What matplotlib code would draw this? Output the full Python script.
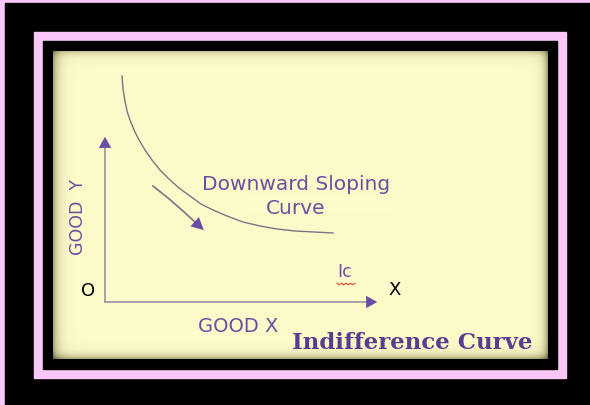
import numpy as np
import matplotlib
matplotlib.use('Agg')
import matplotlib.pyplot as plt
from matplotlib.patches import Rectangle, FancyArrowPatch

# indifference curve (pixel units, y grows downward)
curve_x = [122, 123, 125, 127, 130, 134, 139, 145, 152, 160, 169, 179, 190, 201, 213, 227, 243, 260, 277, 295, 314, 333]
curve_y = [76, 89, 101, 111, 120, 130, 140, 150, 160, 170, 179, 188, 196, 204, 210, 216, 222, 226, 229, 231, 232, 233]

# small arrow showing the slope direction
slope_x = [153, 168, 183, 196, 206]
slope_y = [186, 198, 211, 223, 232]

origin = (105, 302)
y_axis_top = 134
x_axis_end = 380

labels = {
    'down1': 'Downward Sloping',
    'down2': 'Curve',
    'gy': 'GOOD  Y',
    'gx': 'GOOD X',
    'o': 'O',
    'x': 'X',
    'ic': 'Ic',
    'title': 'Indifference Curve',
}

PINK = '#f9c8f9'
CREAM = np.array([253, 251, 202]) / 255.0
PURPLE = '#6b4ea3'
LINE = '#9c8fa6'

W, H = 590, 405
fig = plt.figure(figsize=(W / 100, H / 100), dpi=100)
ax = fig.add_axes([0, 0, 1, 1])
ax.set_xlim(0, W)
ax.set_ylim(H, 0)
ax.axis('off')

# frames
ax.add_patch(Rectangle((-10, -10), W + 20, H + 20, color=PINK, zorder=0))
ax.add_patch(Rectangle((5, 3), W + 10, H + 10, color='black', zorder=0.1))
ax.add_patch(Rectangle((34, 32), 532, 346, color=PINK, zorder=0.2))
ax.add_patch(Rectangle((43, 41), 514, 328, color='black', zorder=0.3))

# cream panel with inner shadow
x0, x1, y0, y1 = 53, 548, 51, 359
w, h = x1 - x0, y1 - y0
xx, yy = np.meshgrid(np.arange(w) + 0.5, np.arange(h) + 0.5)
shade = (0.55 * np.exp(-xx / 5) + 0.6 * np.exp(-(w - xx) / 4)
         + 0.35 * np.exp(-yy / 4) + 0.55 * np.exp(-(h - yy) / 4))
shade = np.clip(shade, 0, 0.8)
dark = np.array([90, 85, 40]) / 255.0
img = CREAM[None, None, :] * (1 - shade[..., None]) + dark[None, None, :] * shade[..., None]
ax.imshow(img, extent=(x0, x1, y1, y0), zorder=0.4, interpolation='bilinear')
ax.set_xlim(0, W)
ax.set_ylim(H, 0)

# axes lines
ax.plot([origin[0], origin[0]], [origin[1], y_axis_top + 8], color=LINE, lw=1.2, zorder=2)
ax.plot([origin[0], x_axis_end - 8], [origin[1], origin[1]], color=LINE, lw=1.2, zorder=2)
ax.add_patch(FancyArrowPatch((origin[0], y_axis_top + 12), (origin[0], y_axis_top),
                             arrowstyle='-|>,head_length=8,head_width=4.5', color=PURPLE,
                             lw=0, zorder=3))
ax.add_patch(FancyArrowPatch((x_axis_end - 12, origin[1]), (x_axis_end, origin[1]),
                             arrowstyle='-|>,head_length=8,head_width=4.5', color=PURPLE,
                             lw=0, zorder=3))

# curve
ax.plot(curve_x, curve_y, color='#7d7386', lw=1.0, zorder=2)

# slope arrow
ax.plot(slope_x[:-1] + [slope_x[-1] - 6], slope_y[:-1] + [slope_y[-1] - 5], color='#7d7386', lw=1.2, zorder=2)
ax.add_patch(FancyArrowPatch((slope_x[-2], slope_y[-2]), (slope_x[-1], slope_y[-1]),
                             arrowstyle='-|>,head_length=9,head_width=4.5', color=PURPLE,
                             lw=0, zorder=3))

sans = 'DejaVu Sans'
ax.text(296, 184, labels['down1'], color=PURPLE, fontsize=14.5, family=sans, ha='center', va='center')
ax.text(296, 209, labels['down2'], color=PURPLE, fontsize=14.5, family=sans, ha='center', va='center')
ax.text(78, 217, labels['gy'], color=PURPLE, fontsize=12.5, family=sans, ha='center', va='center', rotation=90)
ax.text(238, 326, labels['gx'], color=PURPLE, fontsize=14, family=sans, ha='center', va='center')
ax.text(88, 291, labels['o'], color='black', fontsize=13, family=sans, ha='center', va='center')
ax.text(395, 290, labels['x'], color='black', fontsize=13, family=sans, ha='center', va='center')
ax.text(345, 272, labels['ic'], color=PURPLE, fontsize=12.5, family=sans, ha='center', va='center')
sq_x = np.linspace(337, 355, 9)
ax.plot(sq_x, 284 + 0.8 * np.where(np.arange(9) % 2 == 0, -1, 1), color='#d9443a', lw=0.8, zorder=3)
ax.text(412, 343, labels['title'], color='#5b3d90', fontsize=16.5, family='DejaVu Serif',
        weight='bold', ha='center', va='center')

fig.savefig('out.png', dpi=100)
